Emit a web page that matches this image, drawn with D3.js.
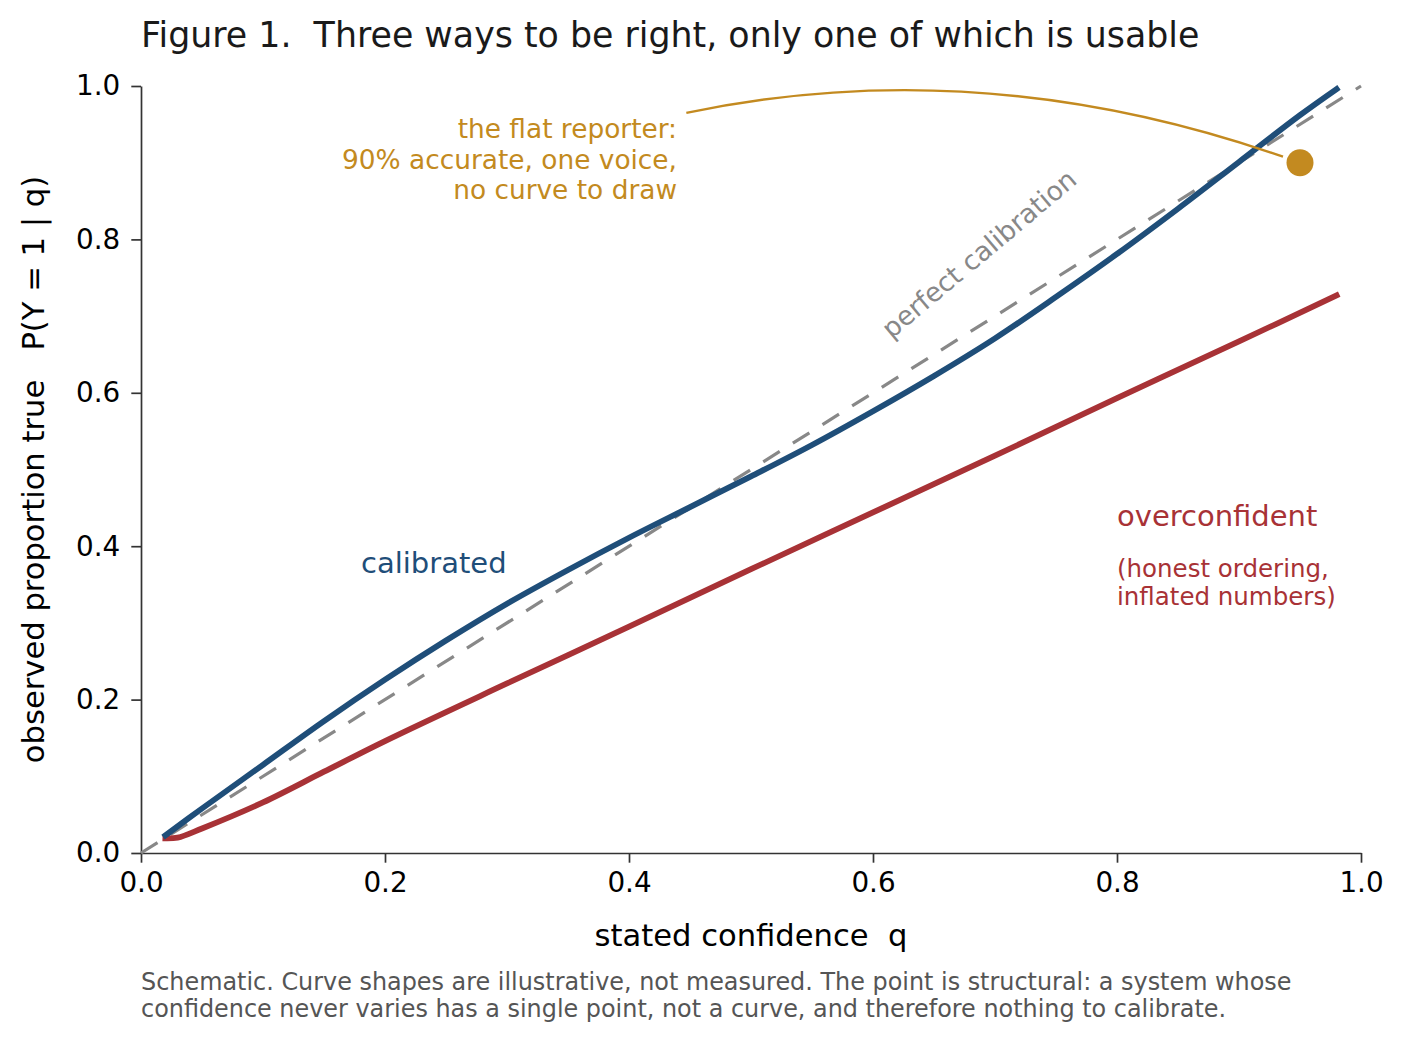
<!DOCTYPE html>
<html>
<head>
<meta charset="utf-8">
<script src="https://cdn.jsdelivr.net/npm/d3@7"></script>
<style>
  body { margin: 0; background: #fff; }
  svg text { font-family: "DejaVu Sans", sans-serif; white-space: pre; }
</style>
</head>
<body>
<div id="chart"></div>
<script>
// stated confidence q for the calibrated curve
const qValues = [0.02, 0.05, 0.1, 0.15, 0.2, 0.25, 0.3, 0.35, 0.4, 0.45, 0.5, 0.55, 0.6, 0.65, 0.7, 0.75, 0.8, 0.85, 0.9, 0.95, 0.98]
// observed proportion true
const calibrated = [0.023, 0.058, 0.115, 0.172, 0.226, 0.277, 0.325, 0.369, 0.411, 0.451, 0.491, 0.532, 0.576, 0.622, 0.671, 0.725, 0.781, 0.840, 0.901, 0.962, 0.996]
// overconfident curve
const overQ = [0.02, 0.03, 0.05, 0.1, 0.15, 0.2, 0.3, 0.4, 0.5, 0.6, 0.7, 0.8, 0.9, 0.98]
const overconfident = [0.019, 0.020, 0.032, 0.066, 0.106, 0.146, 0.221, 0.295, 0.370, 0.444, 0.518, 0.593, 0.667, 0.727]
const diagonal = [[0, 0], [1, 1]]
const flatReporter = [0.95, 0.90]
const ticks = [0, 0.2, 0.4, 0.6, 0.8, 1.0]

const title = "Figure 1.  Three ways to be right, only one of which is usable"
const xLabel = "stated confidence  q"
const yLabel = "observed proportion true   P(Y = 1 | q)"
const flatLines = ["the flat reporter:", "90% accurate, one voice,", "no curve to draw"]
const overLines = ["(honest ordering,", "inflated numbers)"]
const footnote = [
  "Schematic. Curve shapes are illustrative, not measured. The point is structural: a system whose",
  "confidence never varies has a single point, not a curve, and therefore nothing to calibrate."
]

const BLUE = "#1f4e79"
const RED = "#a83236"
const GOLD = "#c38a20"
const GREY = "#888888"

const width = 1405
const height = 1044
const margin = { top: 86, right: 44, bottom: 191, left: 141 }

const svg = d3.select("#chart").append("svg").attr("width", width).attr("height", height)

const x = d3.scaleLinear().domain([0, 1]).range([margin.left, width - margin.right])
const y = d3.scaleLinear().domain([0, 1]).range([height - margin.bottom, margin.top])

// axes (left + bottom spines only)
const xAxis = svg.append("g")
  .attr("transform", `translate(0,${y(0)})`)
  .call(d3.axisBottom(x).tickValues(ticks).tickFormat(d3.format(".1f")).tickSize(9.7).tickSizeOuter(0).tickPadding(10))
const yAxis = svg.append("g")
  .attr("transform", `translate(${x(0)},0)`)
  .call(d3.axisLeft(y).tickValues(ticks).tickFormat(d3.format(".1f")).tickSize(9.7).tickSizeOuter(0).tickPadding(11))

for (const g of [xAxis, yAxis]) {
  g.select(".domain").attr("stroke", "#333").attr("stroke-width", 1.7)
  g.selectAll(".tick line").attr("stroke", "#333").attr("stroke-width", 1.7)
  g.selectAll(".tick text").attr("fill", "#000").style("font-size", "27.8px").style("font-family", "DejaVu Sans")
}

const smooth = d3.line().curve(d3.curveCatmullRom.alpha(0.5)).x((d) => x(d[0])).y((d) => y(d[1]))

// perfect calibration diagonal
svg.append("path")
  .attr("d", d3.line().x((d) => x(d[0])).y((d) => y(d[1]))(diagonal))
  .attr("fill", "none")
  .attr("stroke", GREY)
  .attr("stroke-width", 3.2)
  .attr("stroke-dasharray", "19.5,15.5")

// overconfident curve
svg.append("path")
  .attr("d", smooth(overQ.map((q, i) => [q, overconfident[i]])))
  .attr("fill", "none")
  .attr("stroke", RED)
  .attr("stroke-width", 5.8)
  .attr("stroke-linecap", "square")

// calibrated curve
svg.append("path")
  .attr("d", smooth(qValues.map((q, i) => [q, calibrated[i]])))
  .attr("fill", "none")
  .attr("stroke", BLUE)
  .attr("stroke-width", 5.8)
  .attr("stroke-linecap", "square")

// connector from the flat-reporter label to its point (arc3-like)
const sx = x(0.447), sy = y(0.965)
const px = x(flatReporter[0]), py = y(flatReporter[1])
const ex = px - 17, ey = py - 6
const rad = 0.14
const mx = (sx + ex) / 2, my = (sy + ey) / 2
const cx = mx + rad * (ey - sy) - 10, cy = my - rad * (ex - sx)
svg.append("path")
  .attr("d", `M${sx},${sy} Q${cx},${cy} ${ex},${ey}`)
  .attr("fill", "none")
  .attr("stroke", GOLD)
  .attr("stroke-width", 2.4)

svg.append("circle")
  .attr("cx", px)
  .attr("cy", py)
  .attr("r", 13.5)
  .attr("fill", GOLD)

// text
svg.append("text").attr("x", 141).attr("y", 47).attr("font-size", 34.8).attr("fill", "#1a1a1a").text(title)

svg.append("text")
  .attr("x", x(0.5)).attr("y", 946)
  .attr("text-anchor", "middle").attr("font-size", 30.6).attr("fill", "#000")
  .text(xLabel)

svg.append("text")
  .attr("transform", `translate(44,${y(0.5)}) rotate(-90)`)
  .attr("text-anchor", "middle").attr("font-size", 30.6).attr("fill", "#000")
  .text(yLabel)

svg.append("text")
  .attr("x", 361).attr("y", 573)
  .attr("font-size", 29).attr("fill", BLUE)
  .text("calibrated")

svg.append("text")
  .attr("transform", `translate(985,${261}) rotate(-40)`)
  .attr("text-anchor", "middle").attr("font-size", 26.6).attr("fill", GREY)
  .text("perfect calibration")

svg.append("text")
  .attr("x", 1117).attr("y", 526)
  .attr("font-size", 29).attr("fill", RED)
  .text("overconfident")

svg.append("text")
  .attr("font-size", 24.5).attr("fill", RED)
  .selectAll("tspan").data(overLines).join("tspan")
  .attr("x", 1117).attr("y", (_, i) => 577 + i * 28)
  .text((d) => d)

svg.append("text")
  .attr("text-anchor", "end").attr("font-size", 26.4).attr("fill", GOLD)
  .selectAll("tspan").data(flatLines).join("tspan")
  .attr("x", 677).attr("y", (_, i) => 138 + i * 30.5)
  .text((d) => d)

svg.append("text")
  .attr("font-size", 23.9).attr("fill", "#555")
  .selectAll("tspan").data(footnote).join("tspan")
  .attr("x", 141).attr("y", (_, i) => 990 + i * 27)
  .text((d) => d)
</script>
</body>
</html>
